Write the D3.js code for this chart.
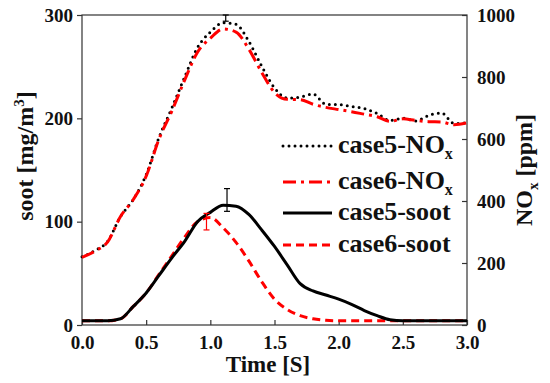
<!DOCTYPE html>
<html>
<head>
<meta charset="utf-8">
<script src="https://cdn.jsdelivr.net/npm/d3@7"></script>
<style>
  body { margin: 0; background: #fff; }
  svg text { font-family: 'Liberation Serif', 'DejaVu Serif', serif !important; font-weight: bold; }
</style>
</head>
<body>
<script>
// time axis [s]
const time = [0, 0.1, 0.2, 0.3, 0.4, 0.5, 0.6, 0.7, 0.8, 0.9, 1.0, 1.1, 1.2, 1.3, 1.4, 1.5,
              1.6, 1.7, 1.8, 1.9, 2.0, 2.1, 2.2, 2.3, 2.4, 2.5, 2.6, 2.7, 2.8, 2.9, 3.0];

// NOx [ppm], right axis
const case5NOx = [220, 240, 270, 350, 405, 485, 605, 700, 800, 895, 945, 975, 970, 915, 835, 765,
                  732, 735, 745, 712, 711, 705, 698, 682, 660, 667, 658, 676, 684, 650, 652];
const case6NOx = [218, 238, 268, 350, 405, 480, 600, 690, 790, 880, 925, 955, 945, 890, 815, 750,
                  728, 727, 712, 702, 695, 688, 680, 672, 657, 665, 660, 656, 655, 646, 652];

// soot [mg/m3], left axis
const case5Soot = [4, 4, 4, 6, 18, 31, 48, 65, 81, 100, 109, 116, 115, 107, 92, 76,
                   58, 40, 33, 29, 25, 20, 14, 9, 5, 4, 4, 4, 4, 4, 4];
const case6Soot = [4, 4, 4, 6, 18, 31, 49, 67, 85, 100, 104, 94, 80, 62, 42, 25,
                   15, 9, 6, 4.5, 4, 4, 4, 4, 4, 4, 4, 4, 4, 4, 4];

// error bars: [time, low, high, axis]
const errorBars = [
  [1.13, 110, 132, 'soot'],
  [0.97, 92, 108, 'soot'],
  [1.12, 980, 1000, 'nox']
];

const sootTicks = [0, 100, 200, 300];
const noxTicks = [0, 200, 400, 600, 800, 1000];
const timeTicks = [0, 0.5, 1.0, 1.5, 2.0, 2.5, 3.0];

const legendItems = [
  { name: 'case5-NO', sub: 'x', color: '#000', dash: '0 6', width: 3 },
  { name: 'case6-NO', sub: 'x', color: '#ff0000', dash: '13 5 3 5', width: 3 },
  { name: 'case5-soot', sub: '', color: '#000', dash: null, width: 3 },
  { name: 'case6-soot', sub: '', color: '#ff0000', dash: '8 5', width: 3 }
];

const W = 550, H = 383;
const mLeft = 82, mRight = 467, mTop = 15, mBottom = 325;
const serif = "'Liberation Serif', 'DejaVu Serif', serif";

const svg = d3.select('body').append('svg')
  .attr('width', W).attr('height', H)
  .attr('font-family', serif);

const x = d3.scaleLinear().domain([0, 3]).range([mLeft, mRight]);
const ySoot = d3.scaleLinear().domain([0, 300]).range([mBottom, mTop]);
const yNox = d3.scaleLinear().domain([0, 1000]).range([mBottom, mTop]);

// frame
svg.append('rect')
  .attr('x', mLeft).attr('y', mTop)
  .attr('width', mRight - mLeft).attr('height', mBottom - mTop)
  .attr('fill', 'none').attr('stroke', '#333').attr('stroke-width', 1.2);

// axes
const axL = svg.append('g').attr('transform', `translate(${mLeft},0)`)
  .call(d3.axisLeft(ySoot).tickValues(sootTicks).tickSize(5).tickPadding(4));
const axR = svg.append('g').attr('transform', `translate(${mRight},0)`)
  .call(d3.axisRight(yNox).tickValues(noxTicks).tickFormat(d3.format('d')).tickSize(-5).tickPadding(10));
const axB = svg.append('g').attr('transform', `translate(0,${mBottom})`)
  .call(d3.axisBottom(x).tickValues(timeTicks).tickFormat(d3.format('.1f')).tickSize(-5).tickPadding(11));

[axL, axR, axB].forEach(g => {
  g.attr('font-family', serif);
  g.select('.domain').remove();
  g.selectAll('.tick line').attr('stroke', '#333').attr('stroke-width', 1.2);
  g.selectAll('.tick text')
    .attr('fill', '#111')
    .attr('font-family', serif)
    .style('font-size', '19px')
    .style('font-weight', 'bold');
});

// axis titles
svg.append('text')
  .attr('transform', 'translate(33,156) rotate(-90)')
  .attr('text-anchor', 'middle')
  .style('font-size', '24px')
  .attr('fill', '#111')
  .call(t => {
    t.append('tspan').text('soot [mg/m');
    t.append('tspan').attr('dy', -9).style('font-size', '15px').text('3');
    t.append('tspan').attr('dy', 9).text(']');
  });

svg.append('text')
  .attr('transform', 'translate(532,170) rotate(-90)')
  .attr('text-anchor', 'middle')
  .style('font-size', '24px')
  .attr('fill', '#111')
  .call(t => {
    t.append('tspan').text('NO');
    t.append('tspan').attr('dy', 6).style('font-size', '15px').text('x');
    t.append('tspan').attr('dy', -6).text(' [ppm]');
  });

svg.append('text')
  .attr('x', 268).attr('y', 372)
  .attr('text-anchor', 'middle')
  .style('font-size', '23px')
  .attr('fill', '#111')
  .text('Time [S]');

// curves
const lineFor = yScale => d3.line()
  .x((d, i) => x(time[i]))
  .y(d => yScale(d))
  .curve(d3.curveMonotoneX);

const series = [
  { values: case5NOx, y: yNox, item: legendItems[0] },
  { values: case6NOx, y: yNox, item: legendItems[1] },
  { values: case6Soot, y: ySoot, item: legendItems[3] },
  { values: case5Soot, y: ySoot, item: legendItems[2] }
];

series.forEach(s => {
  svg.append('path')
    .datum(s.values)
    .attr('d', lineFor(s.y))
    .attr('fill', 'none')
    .attr('stroke', s.item.color)
    .attr('stroke-width', s.item.width)
    .attr('stroke-linecap', s.item.dash === '0 6' ? 'round' : 'butt')
    .attr('stroke-dasharray', s.item.dash);
});

// error bars
const eb = svg.append('g');
errorBars.forEach(([t, lo, hi, ax]) => {
  const ys = ax === 'soot' ? ySoot : yNox;
  const cx = x(t);
  const col = ax === 'soot' && t < 1 ? '#ff0000' : '#000';
  eb.append('line').attr('x1', cx).attr('x2', cx).attr('y1', ys(lo)).attr('y2', ys(hi))
    .attr('stroke', col).attr('stroke-width', 1.2);
  [lo, hi].forEach(v => {
    eb.append('line').attr('x1', cx - 3).attr('x2', cx + 3).attr('y1', ys(v)).attr('y2', ys(v))
      .attr('stroke', col).attr('stroke-width', 1.2);
  });
});

// legend
const legY = [146, 182, 213, 245];
const lg = svg.append('g');
legendItems.forEach((d, i) => {
  const yy = legY[i];
  lg.append('line')
    .attr('x1', 283).attr('x2', 332).attr('y1', yy).attr('y2', yy)
    .attr('stroke', d.color).attr('stroke-width', d.width)
    .attr('stroke-linecap', d.dash === '0 6' ? 'round' : 'butt')
    .attr('stroke-dasharray', d.dash);
  const t = lg.append('text')
    .attr('x', 338).attr('y', yy + 7)
    .style('font-size', '26px')
    .attr('fill', '#111');
  t.append('tspan').text(d.name);
  if (d.sub) t.append('tspan').attr('dy', 6).style('font-size', '16px').text(d.sub);
});
</script>
</body>
</html>
